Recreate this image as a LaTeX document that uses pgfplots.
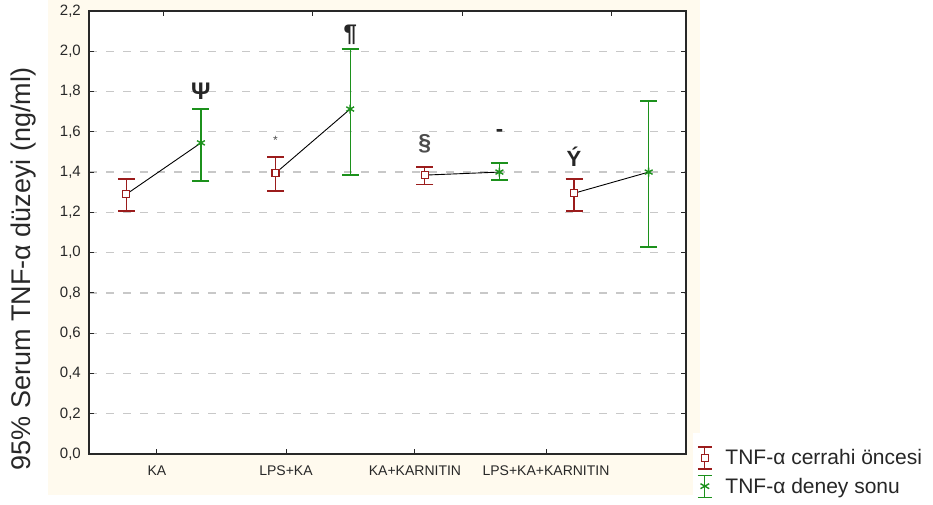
\documentclass[border=0pt]{standalone}
\usepackage{fontspec}
\setmainfont{Liberation Sans}
\usepackage{pgfplots}
\usepackage{pgfplotstable}
\pgfplotsset{compat=1.18}

\definecolor{preop}{RGB}{155,28,28}
\definecolor{postexp}{RGB}{28,145,28}
\definecolor{panel}{RGB}{255,250,238}
\definecolor{framegray}{RGB}{40,40,40}
\definecolor{gridgray}{RGB}{200,200,200}
\definecolor{labelgray}{RGB}{40,40,40}

% mean and asymmetric 95% CI (upper / lower distance), slots 1..8
\pgfplotstableread{
x y ep em
1 1.290 0.075 0.083
3 1.395 0.080 0.089
5 1.385 0.040 0.045
7 1.295 0.070 0.088
}\tabpre

\pgfplotstableread{
x y ep em
2 1.545 0.168 0.189
4 1.713 0.298 0.327
6 1.400 0.045 0.040
8 1.400 0.353 0.372
}\tabpost

\begin{document}
\begin{tikzpicture}[x=1pt,y=1pt]
\fill[white] (0,0) rectangle (933,505);
\useasboundingbox (0,0) rectangle (933,505);
\fill[panel] (48,10) rectangle (700,505);
\fill[white] (693,0) rectangle (933,72);

\begin{axis}[
  at={(89pt,51pt)}, anchor=south west,
  scale only axis, width=597pt, height=443pt,
  xmin=0.5, xmax=8.5, ymin=0, ymax=2.2,
  axis background/.style={fill=white},
  axis line style={framegray, line width=1.6pt},
  tick align=inside, major tick length=5pt,
  every tick/.style={framegray, line width=1pt},
  xtick pos=left,
  xtick={1.411,3.140,4.868,6.624},
  xticklabels={KA, LPS+KA, KA+KARNITIN, LPS+KA+KARNITIN},
  ytick={0,0.2,0.4,0.6,0.8,1.0,1.2,1.4,1.6,1.8,2.0,2.2},
  ytick pos=both, yticklabel pos=left,
  ymajorgrids,
  major grid style={gridgray, dash pattern=on 8pt off 9pt, line width=1.3pt},
  /pgf/number format/.cd, fixed, fixed zerofill, precision=1, use comma, assume math mode=true,
  /pgfplots/.cd,
  xticklabel style={font=\fontsize{14}{14}\selectfont, text=labelgray, inner sep=0pt, anchor=north, yshift=-12pt},
  yticklabel style={font=\fontsize{15}{15}\selectfont, text=labelgray, inner sep=0pt, anchor=east, xshift=-8pt},
  ylabel={95\% Serum TNF-α düzeyi (ng/ml)},
  ylabel style={at={(axis description cs:-0.1089,0.418)}, anchor=center,
    font=\fontsize{27}{27}\selectfont, text=labelgray},
  legend style={at={(axis description cs:1.0184,0.018)}, anchor=north west,
    draw=none, fill=none, inner sep=0pt, row sep=5pt,
    font=\fontsize{21}{21}\selectfont, text=black!85,
    nodes={inner sep=0pt},
    /tikz/every odd column/.append style={column sep=13pt}},
  legend cell align=left,
]

% connecting lines between the two measurements of each group
\addplot[black, line width=0.9pt, forget plot] coordinates {(1,1.290) (2,1.545)};
\addplot[black, line width=0.9pt, forget plot] coordinates {(3,1.395) (4,1.713)};
\addplot[black, line width=0.9pt, forget plot] coordinates {(5,1.385) (6,1.400)};
\addplot[black, line width=0.9pt, forget plot] coordinates {(7,1.295) (8,1.400)};

% before surgery
\addplot[preop, only marks, mark=square*, mark size=3.5pt,
  mark options={fill=white, line width=1.2pt}, forget plot,
  error bars/.cd, y dir=both, y explicit,
  error bar style={preop, line width=1.3pt},
  error mark options={rotate=90, mark size=8.5pt, line width=1.3pt, preop}]
  table[x=x, y=y, y error plus=ep, y error minus=em] {\tabpre};

% end of experiment
\addplot[postexp, only marks, mark=asterisk, mark size=4.5pt,
  mark options={line width=1.4pt}, forget plot,
  error bars/.cd, y dir=both, y explicit,
  error bar style={postexp, line width=1.3pt},
  error mark options={rotate=90, mark size=8.5pt, line width=1.3pt, postexp}]
  table[x=x, y=y, y error plus=ep, y error minus=em] {\tabpost};

% significance symbols
\node[font=\bfseries\fontsize{24}{24}\selectfont, text=black!85] at (axis cs:2,1.802) {Ψ};
\node[font=\bfseries\fontsize{24}{24}\selectfont, text=black!85] at (axis cs:4,2.080) {¶};
\node[font=\fontsize{12}{12}\selectfont, text=black!70] at (axis cs:3,1.559) {*};
\node[font=\bfseries\fontsize{23}{23}\selectfont, text=black!70] at (axis cs:5,1.539) {§};
\node[font=\bfseries\fontsize{22}{22}\selectfont, text=black!85] at (axis cs:6,1.594) {-};
\node[font=\bfseries\fontsize{22}{22}\selectfont, text=black!85] at (axis cs:7,1.475) {Ý};

\addlegendimage{legend image code/.code={
  \draw[preop, line width=1.3pt] (7pt,-11pt) -- (7pt,11pt);
  \draw[preop, line width=1.3pt] (0pt,-11pt) -- (14pt,-11pt);
  \draw[preop, line width=1.3pt] (0pt,11pt) -- (14pt,11pt);
  \draw[preop, line width=1.2pt, fill=white] (3.5pt,-3.5pt) rectangle (10.5pt,3.5pt);
}}
\addlegendentry{TNF-α cerrahi öncesi}
\addlegendimage{legend image code/.code={
  \draw[postexp, line width=1.3pt] (7pt,-11pt) -- (7pt,11pt);
  \draw[postexp, line width=1.3pt] (0pt,-11pt) -- (14pt,-11pt);
  \draw[postexp, line width=1.3pt] (0pt,11pt) -- (14pt,11pt);
  \draw[postexp, line width=1.4pt]
    (7pt,0pt) +(30:5pt) -- +(210:5pt)
    (7pt,0pt) +(150:5pt) -- +(330:5pt);
}}
\addlegendentry{TNF-α deney sonu}
\end{axis}

% top ticks at group centres
\begin{axis}[
  at={(89pt,51pt)}, anchor=south west,
  scale only axis, width=597pt, height=443pt,
  xmin=0.5, xmax=8.5, ymin=0, ymax=2.2,
  hide y axis, axis x line*=top, axis line style={draw=none},
  tick align=inside, major tick length=5pt,
  every tick/.style={framegray, line width=1pt},
  xtick={1.5,3.5,5.5,7.5}, xticklabels={},
]
\addplot[draw=none, forget plot] coordinates {(1,1) (8,1)};
\end{axis}
\end{tikzpicture}
\end{document}
